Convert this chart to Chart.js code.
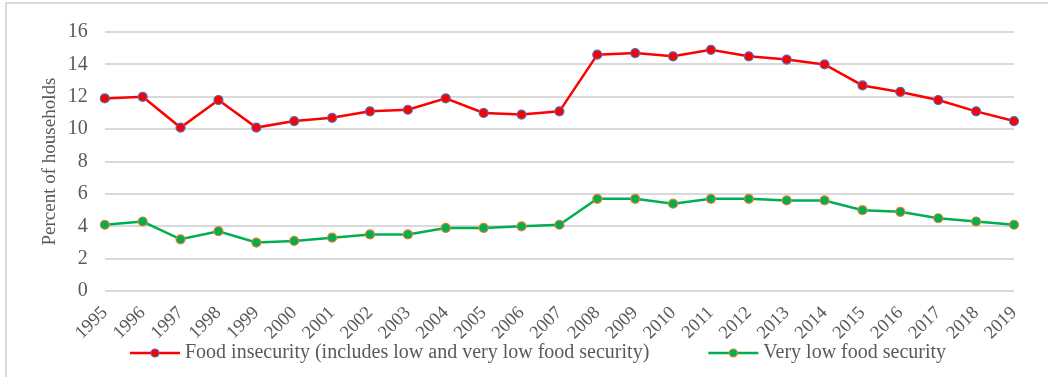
<!DOCTYPE html>
<html>
<head>
<meta charset="utf-8">
<script src="https://cdn.jsdelivr.net/npm/chart.js@4/dist/chart.umd.min.js"></script>
<style>
  html, body { margin: 0; padding: 0; background: #fff; }
  #wrap { position: absolute; left: 0; top: 0; width: 1048px; height: 377px; }
</style>
</head>
<body>
<div id="wrap"><canvas id="grafico"></canvas></div>
<script>
const anios = ['1995','1996','1997','1998','1999','2000','2001','2002','2003','2004','2005','2006','2007',
               '2008','2009','2010','2011','2012','2013','2014','2015','2016','2017','2018','2019'];
const inseguridad = [11.9, 12.0, 10.1, 11.8, 10.1, 10.5, 10.7, 11.1, 11.2, 11.9, 11.0, 10.9, 11.1,
                     14.6, 14.7, 14.5, 14.9, 14.5, 14.3, 14.0, 12.7, 12.3, 11.8, 11.1, 10.5];
const muyBaja = [4.1, 4.3, 3.2, 3.7, 3.0, 3.1, 3.3, 3.5, 3.5, 3.9, 3.9, 4.0, 4.1,
                 5.7, 5.7, 5.4, 5.7, 5.7, 5.6, 5.6, 5.0, 4.9, 4.5, 4.3, 4.1];
const nombres = ['Food insecurity (includes low and very low food security)', 'Very low food security'];
const yTicks = [0, 2, 4, 6, 8, 10, 12, 14, 16];

const serif = '"Liberation Serif", "Times New Roman", serif';
const gris = '#595959';

// marco y leyenda dibujados a mano
const extras = {
  id: 'extras',
  afterDraw(chart) {
    const ctx = chart.ctx;
    ctx.save();
    ctx.strokeStyle = '#d9d9d9';
    ctx.lineWidth = 2;
    ctx.beginPath();
    ctx.moveTo(6, 400); ctx.lineTo(6, 3); ctx.lineTo(1060, 3);
    ctx.stroke();

    ctx.font = '20px ' + serif;
    ctx.textBaseline = 'middle';
    const y = 353;
    const items = chart.data.datasets.map(ds => ({
      ds, w: 55 + ctx.measureText(ds.label).width
    }));
    const gap = 59;
    const total = items.reduce((s, it) => s + it.w, 0) + gap;
    let x = (chart.width - total) / 2 + 14;
    items.forEach(it => {
      ctx.strokeStyle = it.ds.borderColor;
      ctx.lineWidth = 2.5;
      ctx.beginPath(); ctx.moveTo(x, y); ctx.lineTo(x + 50, y); ctx.stroke();
      ctx.beginPath(); ctx.arc(x + 25, y, 4, 0, Math.PI * 2);
      ctx.fillStyle = it.ds.pointBackgroundColor; ctx.fill();
      ctx.lineWidth = 1.2; ctx.strokeStyle = it.ds.pointBorderColor; ctx.stroke();
      ctx.fillStyle = gris;
      ctx.fillText(it.ds.label, x + 55, y);
      x += it.w + gap;
    });
    ctx.restore();
  }
};

new Chart(document.getElementById('grafico'), {
  type: 'line',
  data: {
    labels: anios,
    datasets: [{
      label: nombres[0],
      data: inseguridad,
      borderColor: '#ff0000',
      borderWidth: 2.5,
      pointRadius: 4.5,
      pointBackgroundColor: '#ff0000',
      pointBorderColor: '#4472c4',
      pointBorderWidth: 1.2,
      tension: 0
    }, {
      label: nombres[1],
      data: muyBaja,
      borderColor: '#00b050',
      borderWidth: 2.5,
      pointRadius: 4.5,
      pointBackgroundColor: '#00b050',
      pointBorderColor: '#ed7d31',
      pointBorderWidth: 1.2,
      tension: 0
    }]
  },
  options: {
    responsive: true,
    maintainAspectRatio: false,
    animation: false,
    layout: { padding: { left: 13, right: 34, top: 32, bottom: 30 } },
    plugins: {
      legend: { display: false },
      tooltip: { enabled: false }
    },
    scales: {
      x: {
        grid: { display: false },
        border: { display: false },
        ticks: {
          color: gris,
          font: { family: serif, size: 18.5 },
          minRotation: 45,
          maxRotation: 45,
          autoSkip: false,
          padding: 3
        }
      },
      y: {
        min: 0,
        max: 16,
        afterBuildTicks: axis => { axis.ticks = yTicks.map(v => ({ value: v })); },
        grid: { color: '#d9d9d9', lineWidth: 2, drawTicks: false },
        border: { display: false },
        title: {
          display: true,
          text: 'Percent of households',
          color: gris,
          font: { family: serif, size: 19 },
          padding: { top: 26, bottom: -11 }
        },
        ticks: {
          color: gris,
          font: { family: serif, size: 20 },
          padding: 17
        }
      }
    }
  },
  plugins: [extras]
});
</script>
</body>
</html>
